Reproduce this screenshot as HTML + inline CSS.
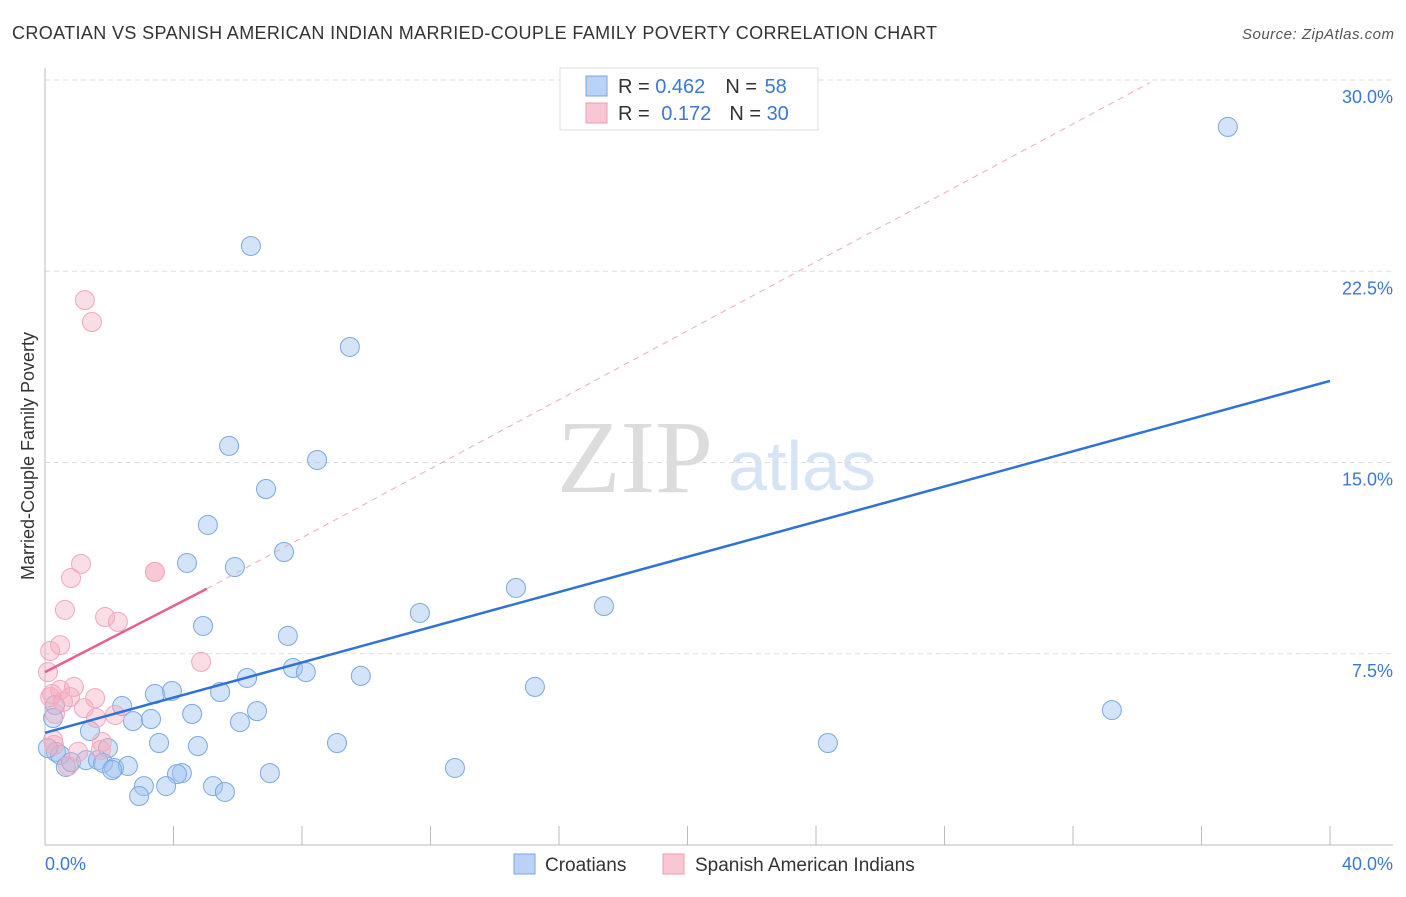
<!DOCTYPE html>
<html><head><meta charset="utf-8"><style>
body{margin:0;background:#fff;font-family:"Liberation Sans",sans-serif}
</style></head><body>
<svg id="chart" width="1406" height="892" xmlns="http://www.w3.org/2000/svg" style="font-family:'Liberation Sans',sans-serif">
<text x="12" y="39" font-size="18" fill="#333" textLength="925" lengthAdjust="spacing">CROATIAN VS SPANISH AMERICAN INDIAN MARRIED-COUPLE FAMILY POVERTY CORRELATION CHART</text>
<text x="1394" y="39" font-size="15" fill="#555" font-style="italic" text-anchor="end" textLength="152">Source: ZipAtlas.com</text>
<text x="635" y="492" font-size="104" fill="#dcdcdc" text-anchor="middle" font-family="Liberation Serif">ZIP</text>
<text x="802" y="490" font-size="70" fill="#d6e4f6" text-anchor="middle">atlas</text>
<text transform="translate(34,456) rotate(-90)" font-size="18" fill="#333" text-anchor="middle">Married-Couple Family Poverty</text>
<g id="grid"></g><g id="axes"></g><g id="pts"></g><g id="lines"></g>
<g>
<rect x="560" y="68" width="258" height="62" fill="#fff" stroke="#ddd"/>
<rect x="586" y="76" width="21" height="20" fill="#b9d2f5" stroke="#7aa6e6"/>
<rect x="586" y="103" width="21" height="20" fill="#f9c6d4" stroke="#f09ab4"/>
<text x="618" y="93" font-size="20" fill="#333">R = <tspan fill="#3b78d6">0.462</tspan><tspan dx="20">N = </tspan><tspan dx="2" fill="#3b78d6">58</tspan></text>
<text x="618" y="120" font-size="20" fill="#333">R = <tspan dx="6" fill="#3b78d6">0.172</tspan><tspan dx="18">N = </tspan><tspan fill="#3b78d6">30</tspan></text>
</g>
<g>
<rect x="514" y="854" width="21" height="20" fill="#b9d2f5" stroke="#7aa6e6"/>
<text x="545" y="871" font-size="19" fill="#333">Croatians</text>
<rect x="663" y="854" width="21" height="20" fill="#f9c6d4" stroke="#f09ab4"/>
<text x="695" y="871" font-size="19" fill="#333">Spanish American Indians</text>
</g>
</svg>
<script>
const xTicks=[0,4,8,12,16,20,24,28,32,36,40];
const yTicks=[7.5,15,22.5,30];
const yTickLabels=["7.5%","15.0%","22.5%","30.0%"];
const blueX=[36.82,6.41,9.49,5.73,8.47,6.88,5.07,4.42,7.44,5.91,14.66,11.67,17.40,4.92,7.56,6.29,7.72,8.12,9.83,15.25,33.21,3.95,3.42,5.45,2.40,2.74,3.30,4.58,6.60,6.07,1.40,0.31,0.34,0.47,3.55,4.76,9.09,24.37,1.96,0.65,0.81,1.28,1.65,1.81,2.15,2.58,2.09,4.26,4.11,7.00,12.76,3.08,3.77,5.23,5.60,2.93,0.25,0.09];
const blueY=[28.16,23.49,19.53,15.65,15.10,13.96,12.55,11.06,11.49,10.90,10.08,9.10,9.37,8.59,8.20,6.55,6.94,6.78,6.63,6.20,5.29,6.04,5.92,6.00,5.45,4.86,4.94,5.14,5.25,4.82,4.47,5.49,3.65,3.53,4.00,3.88,4.00,4.00,3.80,3.06,3.25,3.33,3.33,3.22,3.02,3.10,2.94,2.82,2.78,2.82,3.02,2.31,2.31,2.31,2.08,1.92,4.98,3.80];
const pinkX=[1.24,1.46,1.12,0.81,3.42,3.42,0.62,1.87,2.27,0.47,0.16,0.09,4.86,0.22,0.47,0.90,0.78,1.56,0.31,1.21,1.59,2.18,0.25,1.77,1.03,1.74,0.72,0.28,0.16,0.56];
const pinkY=[21.37,20.51,11.02,10.47,10.71,10.71,9.22,8.94,8.75,7.84,7.61,6.78,7.18,5.92,6.08,6.20,5.80,5.76,5.14,5.37,4.98,5.10,4.12,4.04,3.65,3.73,3.10,3.92,5.80,5.61];
const blueLine=[[0,4.4],[40,18.2]];
const pinkSolid=[[0,6.78],[5.04,10.05]];
const pinkDash=[[5.04,10.05],[34.4,29.9]];
const X=v=>45+v*32.125, Y=v=>845-v*25.5;
const NS="http://www.w3.org/2000/svg";
function mk(tag,attrs,parent){const e=document.createElementNS(NS,tag);for(const k in attrs)e.setAttribute(k,attrs[k]);document.getElementById(parent).appendChild(e);return e;}
yTicks.forEach((t,i)=>{
 const g=mk('line',{x1:45,x2:1393,y1:Y(t),y2:Y(t),stroke:'#ddd','stroke-dasharray':'5,4'},'grid');
 
 
 const l=mk('text',{x:1393,y:Y(t)+23,'font-size':18,fill:'#3b78d6','text-anchor':'end'},'grid');
 l.textContent=yTickLabels[i];
 
 
});
const ax=mk('line',{x1:45,x2:1393,y1:845,y2:845,stroke:'#bbb'},'axes');


const ay=mk('line',{x1:45,x2:45,y1:68,y2:845,stroke:'#bbb'},'axes');


xTicks.forEach(t=>{const e=mk('line',{x1:X(t),x2:X(t),y1:826,y2:845,stroke:'#bbb'},'axes');
 
 });
const x0=mk('text',{x:45,y:870,'font-size':18,fill:'#3b78d6'},'axes');x0.textContent='0.0%';


const x1=mk('text',{x:1393,y:870,'font-size':18,fill:'#3b78d6','text-anchor':'end'},'axes');x1.textContent='40.0%';


blueX.forEach((v,i)=>{const c=mk('circle',{cx:X(v),cy:Y(blueY[i]),r:9.5,fill:'rgba(160,195,240,0.45)',stroke:'#7ba8e4','stroke-width':1},'pts');
 
 });
pinkX.forEach((v,i)=>{const c=mk('circle',{cx:X(v),cy:Y(pinkY[i]),r:9.5,fill:'rgba(245,170,190,0.4)',stroke:'#f2a8be','stroke-width':1},'pts');
 
 });
const bl=mk('line',{x1:X(blueLine[0][0]),y1:Y(blueLine[0][1]),x2:X(blueLine[1][0]),y2:Y(blueLine[1][1]),stroke:'#2f72d8','stroke-width':2.5},'lines');


const ps=mk('line',{x1:X(pinkSolid[0][0]),y1:Y(pinkSolid[0][1]),x2:X(pinkSolid[1][0]),y2:Y(pinkSolid[1][1]),stroke:'#e8608c','stroke-width':2.5},'lines');


const pd=mk('line',{x1:X(pinkDash[0][0]),y1:Y(pinkDash[0][1]),x2:X(pinkDash[1][0]),y2:Y(pinkDash[1][1]),stroke:'#eeaabf','stroke-width':1,'stroke-dasharray':'6,5'},'lines');


</script>
</body></html>
